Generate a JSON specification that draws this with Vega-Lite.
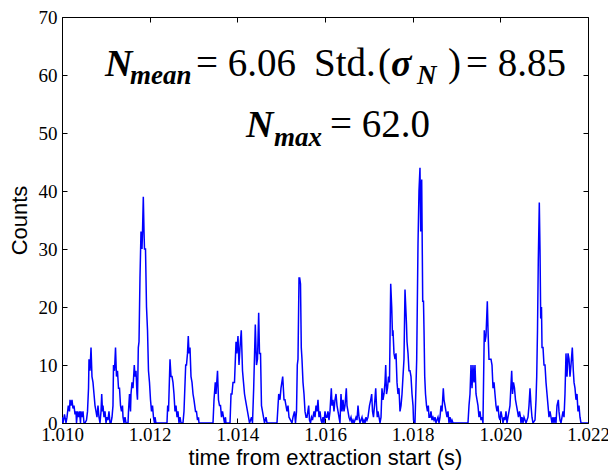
{
"$schema": "https://vega.github.io/schema/vega-lite/v6.json",
"width": 526, "height": 406,
"autosize": "none",
"padding": {"left": 62, "top": 17, "right": 20, "bottom": 47},
"background": "white",
"config": {"view": {"stroke": "black", "strokeWidth": 1},
  "axis": {"grid": false, "domain": false, "tickColor": "black", "tickSize": -5, "tickWidth": 1,
    "labelFont": "Liberation Serif", "labelFontSize": 19, "labelColor": "black", "labelFlush": false, "labelOverlap": false,
    "titleFont": "Liberation Sans", "titleFontSize": 22, "titleFontWeight": "normal", "titleColor": "black"}},
"datasets": {
"series": [
{"t":1.010000,"n":1},{"t":1.010023,"n":0},{"t":1.010057,"n":1.5},{"t":1.010091,"n":0},{"t":1.010114,"n":1},{"t":1.010144,"n":3},{"t":1.010171,"n":2},{"t":1.010183,"n":4},{"t":1.010205,"n":3},{"t":1.010228,"n":4},{"t":1.010251,"n":2.5},{"t":1.010274,"n":3},{"t":1.010297,"n":1.5},{"t":1.010319,"n":2},{"t":1.010331,"n":0},{"t":1.010354,"n":2},{"t":1.010376,"n":1},{"t":1.010399,"n":2},{"t":1.010422,"n":0},{"t":1.010433,"n":2},{"t":1.010456,"n":1},{"t":1.010479,"n":2},{"t":1.010502,"n":0},{"t":1.010525,"n":0},{"t":1.010559,"n":0.5},{"t":1.010582,"n":2},{"t":1.010605,"n":6},{"t":1.010616,"n":11},{"t":1.010639,"n":9},{"t":1.010662,"n":13},{"t":1.010684,"n":8},{"t":1.010707,"n":7},{"t":1.010730,"n":5},{"t":1.010753,"n":3},{"t":1.010776,"n":2},{"t":1.010798,"n":1},{"t":1.010821,"n":3},{"t":1.010844,"n":1},{"t":1.010867,"n":0},{"t":1.010890,"n":2},{"t":1.010906,"n":5},{"t":1.010924,"n":2},{"t":1.010935,"n":3},{"t":1.010958,"n":1},{"t":1.010981,"n":2},{"t":1.011004,"n":0},{"t":1.011027,"n":1},{"t":1.011049,"n":0.5},{"t":1.011072,"n":2},{"t":1.011095,"n":0},{"t":1.011118,"n":0},{"t":1.011141,"n":1},{"t":1.011163,"n":3},{"t":1.011175,"n":10},{"t":1.011198,"n":9},{"t":1.011221,"n":13},{"t":1.011243,"n":8},{"t":1.011266,"n":9},{"t":1.011289,"n":6},{"t":1.011312,"n":6},{"t":1.011335,"n":3},{"t":1.011357,"n":2},{"t":1.011380,"n":3},{"t":1.011392,"n":1},{"t":1.011414,"n":0},{"t":1.011437,"n":1},{"t":1.011460,"n":0},{"t":1.011506,"n":0},{"t":1.011517,"n":2},{"t":1.011540,"n":5},{"t":1.011563,"n":2},{"t":1.011574,"n":5},{"t":1.011597,"n":7},{"t":1.011620,"n":6},{"t":1.011649,"n":10},{"t":1.011665,"n":8},{"t":1.011688,"n":9},{"t":1.011711,"n":5},{"t":1.011722,"n":4},{"t":1.011741,"n":13},{"t":1.011757,"n":14},{"t":1.011779,"n":25},{"t":1.011802,"n":33},{"t":1.011825,"n":30},{"t":1.011837,"n":33},{"t":1.011855,"n":39},{"t":1.011871,"n":33},{"t":1.011882,"n":30},{"t":1.011905,"n":30},{"t":1.011928,"n":20},{"t":1.011951,"n":16},{"t":1.011973,"n":9},{"t":1.011996,"n":7},{"t":1.012019,"n":4},{"t":1.012042,"n":2},{"t":1.012065,"n":3},{"t":1.012087,"n":1},{"t":1.012110,"n":0},{"t":1.012122,"n":1},{"t":1.012144,"n":0},{"t":1.012395,"n":0},{"t":1.012411,"n":3},{"t":1.012430,"n":2},{"t":1.012464,"n":11},{"t":1.012487,"n":8},{"t":1.012510,"n":8},{"t":1.012532,"n":7},{"t":1.012555,"n":5},{"t":1.012578,"n":2},{"t":1.012601,"n":3},{"t":1.012624,"n":1},{"t":1.012646,"n":2},{"t":1.012669,"n":0},{"t":1.012692,"n":1},{"t":1.012715,"n":0},{"t":1.012760,"n":0},{"t":1.012783,"n":2},{"t":1.012822,"n":10},{"t":1.012840,"n":10},{"t":1.012863,"n":12},{"t":1.012881,"n":15},{"t":1.012897,"n":12},{"t":1.012920,"n":13},{"t":1.012943,"n":8},{"t":1.012966,"n":7},{"t":1.012989,"n":5},{"t":1.013011,"n":4},{"t":1.013046,"n":2},{"t":1.013068,"n":2},{"t":1.013091,"n":0.5},{"t":1.013114,"n":1},{"t":1.013125,"n":0},{"t":1.013445,"n":0},{"t":1.013468,"n":4},{"t":1.013497,"n":7},{"t":1.013513,"n":5},{"t":1.013548,"n":9},{"t":1.013570,"n":4},{"t":1.013593,"n":3},{"t":1.013616,"n":3},{"t":1.013639,"n":1},{"t":1.013662,"n":2},{"t":1.013684,"n":1},{"t":1.013707,"n":0},{"t":1.013730,"n":1},{"t":1.013741,"n":0},{"t":1.013833,"n":0},{"t":1.013856,"n":5},{"t":1.013878,"n":5},{"t":1.013901,"n":7},{"t":1.013935,"n":7},{"t":1.013970,"n":14},{"t":1.013988,"n":12},{"t":1.014015,"n":15},{"t":1.014038,"n":10},{"t":1.014061,"n":13},{"t":1.014090,"n":16},{"t":1.014118,"n":9},{"t":1.014141,"n":7},{"t":1.014164,"n":5},{"t":1.014186,"n":4},{"t":1.014209,"n":3},{"t":1.014232,"n":2},{"t":1.014255,"n":1},{"t":1.014278,"n":0},{"t":1.014323,"n":1},{"t":1.014346,"n":0},{"t":1.014373,"n":6},{"t":1.014410,"n":17},{"t":1.014437,"n":10},{"t":1.014460,"n":11},{"t":1.014487,"n":19},{"t":1.014506,"n":12},{"t":1.014529,"n":12},{"t":1.014551,"n":3},{"t":1.014574,"n":2},{"t":1.014597,"n":1},{"t":1.014620,"n":0},{"t":1.014654,"n":1},{"t":1.014677,"n":0},{"t":1.014905,"n":0},{"t":1.014944,"n":5},{"t":1.014973,"n":4},{"t":1.014996,"n":6},{"t":1.015035,"n":8},{"t":1.015065,"n":4},{"t":1.015087,"n":4},{"t":1.015110,"n":3},{"t":1.015133,"n":2},{"t":1.015156,"n":3},{"t":1.015179,"n":1},{"t":1.015213,"n":0.5},{"t":1.015247,"n":0},{"t":1.015270,"n":1},{"t":1.015304,"n":2},{"t":1.015327,"n":0},{"t":1.015350,"n":2},{"t":1.015368,"n":10},{"t":1.015384,"n":11},{"t":1.015407,"n":25},{"t":1.015423,"n":25},{"t":1.015441,"n":24},{"t":1.015459,"n":13},{"t":1.015475,"n":11},{"t":1.015498,"n":7},{"t":1.015521,"n":5},{"t":1.015544,"n":2},{"t":1.015567,"n":1},{"t":1.015589,"n":1},{"t":1.015628,"n":3},{"t":1.015646,"n":0.5},{"t":1.015669,"n":0},{"t":1.015692,"n":1},{"t":1.015715,"n":0.5},{"t":1.015749,"n":2},{"t":1.015772,"n":1},{"t":1.015795,"n":3},{"t":1.015817,"n":2},{"t":1.015840,"n":4},{"t":1.015863,"n":1},{"t":1.015886,"n":2},{"t":1.015909,"n":0.5},{"t":1.015932,"n":0},{"t":1.015954,"n":1},{"t":1.015977,"n":0},{"t":1.016000,"n":2},{"t":1.016023,"n":1},{"t":1.016046,"n":1},{"t":1.016068,"n":2},{"t":1.016091,"n":0.5},{"t":1.016114,"n":2},{"t":1.016144,"n":6},{"t":1.016160,"n":3},{"t":1.016182,"n":4},{"t":1.016205,"n":2},{"t":1.016228,"n":4},{"t":1.016251,"n":5},{"t":1.016274,"n":3},{"t":1.016297,"n":2},{"t":1.016319,"n":1},{"t":1.016342,"n":0},{"t":1.016365,"n":5},{"t":1.016388,"n":2},{"t":1.016411,"n":4},{"t":1.016433,"n":2},{"t":1.016456,"n":3},{"t":1.016486,"n":6},{"t":1.016502,"n":3},{"t":1.016525,"n":2},{"t":1.016547,"n":1},{"t":1.016570,"n":0.5},{"t":1.016593,"n":1},{"t":1.016616,"n":0},{"t":1.016639,"n":0.5},{"t":1.016662,"n":0},{"t":1.016707,"n":1},{"t":1.016730,"n":0.5},{"t":1.016753,"n":3},{"t":1.016776,"n":1},{"t":1.016798,"n":0},{"t":1.016844,"n":1},{"t":1.016867,"n":0},{"t":1.016890,"n":0.5},{"t":1.016913,"n":0},{"t":1.016935,"n":1},{"t":1.016958,"n":0.5},{"t":1.016981,"n":1},{"t":1.017015,"n":3},{"t":1.017043,"n":4},{"t":1.017065,"n":5},{"t":1.017084,"n":2},{"t":1.017106,"n":1},{"t":1.017129,"n":3},{"t":1.017157,"n":6},{"t":1.017175,"n":3},{"t":1.017193,"n":1},{"t":1.017209,"n":2},{"t":1.017232,"n":1},{"t":1.017255,"n":0},{"t":1.017278,"n":1},{"t":1.017300,"n":6},{"t":1.017323,"n":4},{"t":1.017346,"n":5},{"t":1.017369,"n":7},{"t":1.017385,"n":10},{"t":1.017403,"n":5},{"t":1.017426,"n":6},{"t":1.017449,"n":8},{"t":1.017471,"n":7},{"t":1.017499,"n":24},{"t":1.017522,"n":20},{"t":1.017540,"n":15},{"t":1.017551,"n":16},{"t":1.017574,"n":12},{"t":1.017597,"n":11},{"t":1.017620,"n":12},{"t":1.017643,"n":7},{"t":1.017665,"n":5},{"t":1.017688,"n":6},{"t":1.017711,"n":2},{"t":1.017734,"n":3},{"t":1.017757,"n":5},{"t":1.017779,"n":8},{"t":1.017802,"n":11},{"t":1.017825,"n":23},{"t":1.017848,"n":19},{"t":1.017859,"n":17},{"t":1.017871,"n":14},{"t":1.017894,"n":12},{"t":1.017916,"n":9},{"t":1.017939,"n":9},{"t":1.017962,"n":8},{"t":1.017985,"n":5},{"t":1.018008,"n":3},{"t":1.018019,"n":0.5},{"t":1.018053,"n":0},{"t":1.018092,"n":11},{"t":1.018122,"n":31},{"t":1.018144,"n":40},{"t":1.018167,"n":44},{"t":1.018183,"n":33},{"t":1.018206,"n":42},{"t":1.018229,"n":21},{"t":1.018247,"n":21},{"t":1.018259,"n":16},{"t":1.018275,"n":8},{"t":1.018293,"n":5},{"t":1.018316,"n":3},{"t":1.018338,"n":2},{"t":1.018357,"n":3},{"t":1.018373,"n":1},{"t":1.018396,"n":1},{"t":1.018418,"n":2},{"t":1.018441,"n":0.5},{"t":1.018464,"n":1},{"t":1.018487,"n":0.5},{"t":1.018510,"n":1},{"t":1.018532,"n":0},{"t":1.018555,"n":0.5},{"t":1.018578,"n":1},{"t":1.018601,"n":0},{"t":1.018624,"n":1},{"t":1.018646,"n":3},{"t":1.018669,"n":2},{"t":1.018699,"n":6},{"t":1.018715,"n":4},{"t":1.018738,"n":3},{"t":1.018760,"n":2},{"t":1.018783,"n":1},{"t":1.018806,"n":2},{"t":1.018829,"n":0},{"t":1.018852,"n":1},{"t":1.018875,"n":0},{"t":1.018897,"n":0.5},{"t":1.018920,"n":0},{"t":1.019262,"n":0},{"t":1.019285,"n":3},{"t":1.019308,"n":5},{"t":1.019331,"n":10},{"t":1.019354,"n":6},{"t":1.019376,"n":10},{"t":1.019399,"n":7},{"t":1.019422,"n":10},{"t":1.019445,"n":5},{"t":1.019468,"n":4},{"t":1.019490,"n":3},{"t":1.019513,"n":1},{"t":1.019536,"n":2},{"t":1.019559,"n":0.5},{"t":1.019582,"n":1},{"t":1.019604,"n":0},{"t":1.019634,"n":16},{"t":1.019650,"n":14},{"t":1.019673,"n":15},{"t":1.019703,"n":21},{"t":1.019719,"n":16},{"t":1.019741,"n":11},{"t":1.019764,"n":11},{"t":1.019787,"n":11},{"t":1.019810,"n":10},{"t":1.019833,"n":6},{"t":1.019856,"n":7},{"t":1.019878,"n":5},{"t":1.019901,"n":3},{"t":1.019924,"n":2},{"t":1.019947,"n":3},{"t":1.019970,"n":1},{"t":1.019992,"n":0.5},{"t":1.020015,"n":2},{"t":1.020038,"n":1},{"t":1.020061,"n":0},{"t":1.020084,"n":1},{"t":1.020106,"n":0.5},{"t":1.020129,"n":2},{"t":1.020152,"n":0},{"t":1.020175,"n":1},{"t":1.020198,"n":2},{"t":1.020220,"n":3},{"t":1.020259,"n":9},{"t":1.020278,"n":5},{"t":1.020300,"n":7},{"t":1.020323,"n":6},{"t":1.020346,"n":4},{"t":1.020369,"n":3},{"t":1.020392,"n":2},{"t":1.020414,"n":1},{"t":1.020437,"n":2},{"t":1.020460,"n":1},{"t":1.020471,"n":0},{"t":1.020494,"n":1},{"t":1.020517,"n":0},{"t":1.020540,"n":1},{"t":1.020563,"n":0.5},{"t":1.020586,"n":0},{"t":1.020631,"n":1},{"t":1.020654,"n":3},{"t":1.020677,"n":6},{"t":1.020700,"n":3},{"t":1.020722,"n":1},{"t":1.020745,"n":0},{"t":1.020791,"n":0.5},{"t":1.020814,"n":4},{"t":1.020830,"n":8},{"t":1.020848,"n":16},{"t":1.020866,"n":28},{"t":1.020889,"n":38},{"t":1.020905,"n":30},{"t":1.020921,"n":18},{"t":1.020939,"n":20},{"t":1.020951,"n":13},{"t":1.020974,"n":13},{"t":1.020996,"n":10},{"t":1.021019,"n":10},{"t":1.021042,"n":7},{"t":1.021065,"n":5},{"t":1.021088,"n":3},{"t":1.021110,"n":1},{"t":1.021133,"n":2},{"t":1.021156,"n":1},{"t":1.021179,"n":0},{"t":1.021202,"n":1},{"t":1.021224,"n":0},{"t":1.021247,"n":1},{"t":1.021270,"n":0},{"t":1.021293,"n":3},{"t":1.021323,"n":4},{"t":1.021338,"n":2},{"t":1.021361,"n":0.5},{"t":1.021384,"n":0},{"t":1.021407,"n":1},{"t":1.021430,"n":2},{"t":1.021453,"n":1},{"t":1.021475,"n":5},{"t":1.021498,"n":12},{"t":1.021521,"n":8},{"t":1.021544,"n":12},{"t":1.021567,"n":11},{"t":1.021589,"n":8},{"t":1.021612,"n":10},{"t":1.021642,"n":13},{"t":1.021665,"n":9},{"t":1.021681,"n":7},{"t":1.021703,"n":6},{"t":1.021726,"n":4},{"t":1.021749,"n":5},{"t":1.021772,"n":2},{"t":1.021795,"n":3},{"t":1.021817,"n":1},{"t":1.021840,"n":0},{"t":1.022000,"n":0}
],
"bigNames": [
{"t":1.010981,"y":59.8,"s":"N"},{"t":1.017506,"y":59.8,"s":"σ"},{"t":1.014198,"y":49.3,"s":"N"}
],
"plain": [
{"t":1.013057,"y":59.8,"s":"= 6.06"},{"t":1.015749,"y":59.8,"s":"Std."},{"t":1.017209,"y":59.8,"s":"("},{"t":1.018806,"y":59.8,"s":")"},{"t":1.019217,"y":59.8,"s":"= 8.85"},{"t":1.016114,"y":49.3,"s":"= 62.0"}
],
"subs": [
{"t":1.011551,"y":58.4,"s":"mean"},{"t":1.018099,"y":58.4,"s":"N"},{"t":1.014837,"y":47.8,"s":"max"}
]
},
"layer": [
{"data": {"name": "series"},
 "mark": {"type": "line", "color": "#0000ff", "strokeWidth": 1.5, "clip": true},
 "encoding": {
  "x": {"field": "t", "type": "quantitative", "scale": {"domain": [1.010, 1.022], "nice": false, "zero": false},
        "axis": {"orient": "bottom", "values": [1.010, 1.012, 1.014, 1.016, 1.018, 1.020, 1.022], "format": ".3f", "title": "time from extraction start (s)", "labelPadding": 7, "titlePadding": 3}},
  "y": {"field": "n", "type": "quantitative", "scale": {"domain": [0, 70], "nice": false},
        "axis": {"orient": "left", "values": [0, 10, 20, 30, 40, 50, 60, 70], "title": "Counts", "labelPadding": 10, "titlePadding": 7}}}},
{"data": {"name": "bigNames"},
 "mark": {"type": "text", "font": "Liberation Serif", "fontSize": 38, "fontWeight": "bold", "fontStyle": "italic", "align": "left", "baseline": "alphabetic", "color": "black"},
 "encoding": {
  "x": {"field": "t", "type": "quantitative", "axis": {"orient": "top", "labels": false, "title": null, "values": [1.010, 1.012, 1.014, 1.016, 1.018, 1.020, 1.022]}},
  "y": {"field": "y", "type": "quantitative", "axis": {"orient": "right", "labels": false, "title": null, "values": [0, 10, 20, 30, 40, 50, 60, 70]}},
  "text": {"field": "s"}}},
{"data": {"name": "plain"},
 "mark": {"type": "text", "font": "Liberation Serif", "fontSize": 39, "align": "left", "baseline": "alphabetic", "color": "black"},
 "encoding": {
  "x": {"field": "t", "type": "quantitative", "axis": null},
  "y": {"field": "y", "type": "quantitative", "axis": null},
  "text": {"field": "s"}}},
{"data": {"name": "subs"},
 "mark": {"type": "text", "font": "Liberation Serif", "fontSize": 27, "fontWeight": "bold", "fontStyle": "italic", "align": "left", "baseline": "alphabetic", "color": "black"},
 "encoding": {
  "x": {"field": "t", "type": "quantitative", "axis": null},
  "y": {"field": "y", "type": "quantitative", "axis": null},
  "text": {"field": "s"}}}
],
"resolve": {"axis": {"x": "independent", "y": "independent"}}
}
